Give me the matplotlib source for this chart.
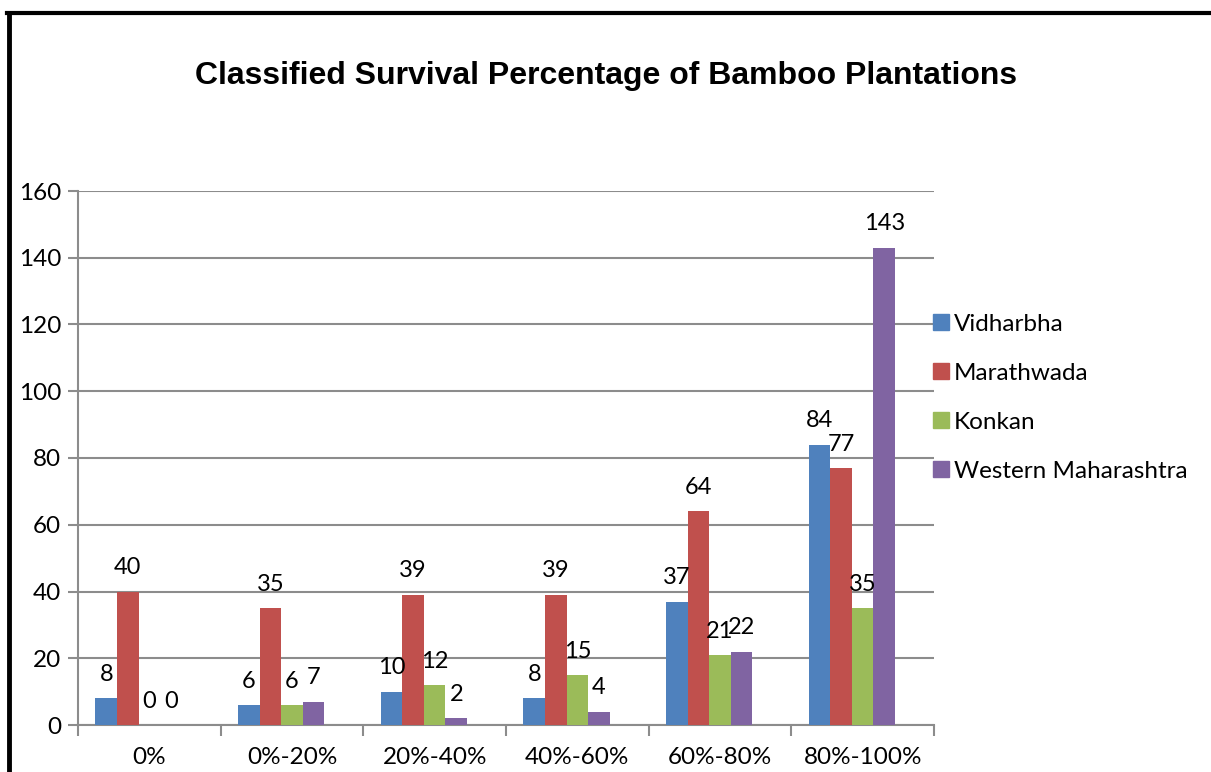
import matplotlib
matplotlib.use("Agg")
import matplotlib.pyplot as plt
import numpy as np
from matplotlib.lines import Line2D

categories = ["0%", "0%-20%", "20%-40%", "40%-60%", "60%-80%", "80%-100%"]
series_names = ["Vidharbha", "Marathwada", "Konkan", "Western Maharashtra"]
vidharbha = [8, 6, 10, 8, 37, 84]
marathwada = [40, 35, 39, 39, 64, 77]
konkan = [0, 6, 12, 15, 21, 35]
western = [0, 7, 2, 4, 22, 143]
yticks = [0, 20, 40, 60, 80, 100, 120, 140, 160]
colors = ["#4F81BD", "#C0504D", "#9BBB59", "#8064A2"]

series = [vidharbha, marathwada, konkan, western]

fig = plt.figure(figsize=(12.11, 7.72), dpi=100)
ax = fig.add_axes([78/1211, 1 - 725/772, (934-78)/1211, (725-191)/772])

font = "Lato"
x = np.arange(len(categories))
bw = 0.151
for i, (vals, c, name) in enumerate(zip(series, colors, series_names)):
    pos = x + (i - 2) * bw
    ax.bar(pos, vals, width=bw, color=c, label=name, zorder=3)
    for p, v in zip(pos, vals):
        ax.text(p, v + 4, str(v), ha="center", va="bottom", fontsize=17,
                family=font, zorder=4)

ax.set_ylim(0, 160)
ax.set_xlim(-0.5, len(categories) - 0.5)
ax.set_yticks(yticks)
ax.set_yticklabels([str(t) for t in yticks], family=font, fontsize=17.5)
ax.yaxis.grid(True, color="#8C8C8C", linewidth=1.5, zorder=0)
ax.set_axisbelow(True)

ax.set_xticks(np.arange(-0.5, len(categories)), minor=False)
ax.set_xticklabels([])
ax.set_xticks(x, minor=True)
ax.set_xticklabels(categories, minor=True, family=font, fontsize=17.5)
ax.tick_params(axis="x", which="major", length=8, color="#8C8C8C", width=1.5)
ax.tick_params(axis="x", which="minor", length=0, pad=16)
ax.tick_params(axis="y", length=7, color="#8C8C8C", width=1.5, pad=5)

for s in ["top", "right"]:
    ax.spines[s].set_visible(False)
for s in ["left", "bottom"]:
    ax.spines[s].set_color("#8C8C8C")
    ax.spines[s].set_linewidth(1.5)

fig.text(606/1211, 1 - 76/772, "Classified Survival Percentage of Bamboo Plantations",
         ha="center", va="center", fontsize=23, fontweight="bold",
         family="Liberation Sans")

handles = [Line2D([0], [0], marker="s", linestyle="none", markersize=12,
                  markerfacecolor=c, markeredgecolor=c) for c in colors]
leg = fig.legend(handles, series_names, loc="upper left",
                 bbox_to_anchor=(920/1211, 1 - 304/772), frameon=False,
                 prop={"family": font, "size": 17.5}, handletextpad=0.1,
                 labelspacing=1.15, handlelength=0.9, borderaxespad=0)

# outer border (left and top)
fig.add_artist(Line2D([9/1211, 9/1211], [0, 1 - 13/772], color="black",
                      linewidth=3.5, transform=fig.transFigure))
fig.add_artist(Line2D([7/1211, 1], [1 - 13/772, 1 - 13/772], color="black",
                      linewidth=3, transform=fig.transFigure))

fig.savefig("out.png", dpi=100)
